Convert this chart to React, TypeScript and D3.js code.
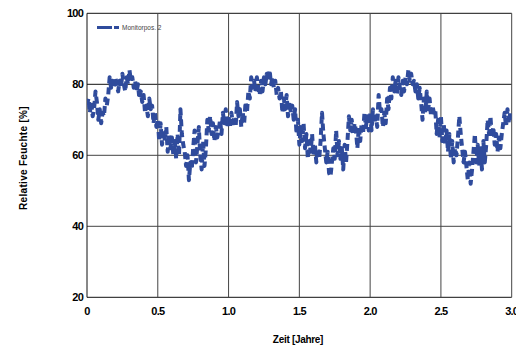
import React from "react";
import * as d3 from "d3";

// Relative humidity, sampled every 0.01 year
const year1: number[] = [
  74, 76, 72, 75, 71, 73, 78, 75, 70, 73,
  69, 72, 71, 76, 74, 77, 82, 79, 81, 79,
  82, 80, 78, 81, 79, 83, 80, 78, 82, 80,
  84, 81, 82, 79, 81, 78, 80, 76, 78, 75,
  77, 72, 74, 71, 76, 73, 74, 69, 72, 68,
  70, 64, 69, 63, 67, 64, 68, 61, 66, 62,
  65, 60, 64, 59, 66, 60, 73, 66, 63, 61,
  57, 60, 53, 58, 56, 62, 67, 58, 63, 68,
  60, 56, 64, 57, 62, 70, 67, 71, 66, 69,
  64, 68, 65, 67, 70, 66, 72, 69, 73, 68,
];
const year2: number[] = [
  71, 68, 72, 69, 71, 68, 75, 71, 73, 68,
  72, 69, 75, 72, 78, 76, 82, 79, 81, 78,
  82, 79, 77, 81, 78, 82, 80, 83, 81, 84,
  80, 82, 79, 81, 77, 79, 76, 78, 72, 76,
  73, 77, 71, 75, 72, 74, 70, 73, 66, 70,
  63, 68, 64, 69, 62, 66, 59, 64, 61, 66,
  60, 63, 58, 62, 59, 64, 72, 66, 62, 58,
  61, 55, 54, 58, 62, 59, 67, 60, 64, 59,
  62, 56, 63, 58, 64, 71, 67, 70, 66, 69,
  67, 62, 68, 64, 69, 66, 72, 68, 71, 67,
];
const year3: number[] = [
  72, 67, 73, 69, 71, 68, 77, 72, 73, 68,
  72, 69, 76, 73, 79, 76, 82, 78, 81, 77,
  82, 79, 77, 81, 78, 82, 80, 84, 81, 83,
  80, 81, 78, 80, 76, 79, 75, 70, 76, 72,
  78, 73, 76, 71, 74, 72, 73, 66, 70, 65,
  71, 64, 69, 63, 67, 61, 66, 59, 64, 58,
  62, 60, 65, 71, 66, 62, 58, 61, 57, 53,
  58, 52, 56, 61, 66, 58, 63, 57, 62, 56,
  64, 58, 63, 70, 66, 71, 65, 68, 63, 66,
  61, 65, 62, 66, 69, 72, 68, 73, 69, 72,
];
const lastValue: number[] = [70];

const yTicks: number[] = [20, 40, 60, 80, 100];
const xTicks: number[] = [0, 0.5, 1, 1.5, 2, 2.5, 3];
const xTickLabels: string[] = ["0", "0.5", "1.0", "1.5", "2.0", "2.5", "3.0"];
const seriesName = "Monitorpos. 2";
const xTitle = "Zeit [Jahre]";
const yTitle = "Relative Feuchte [%]";

const STEP = 0.01;

export default function App() {
  const W = 528, H = 347;
  const x = d3.scaleLinear().domain([0, 3]).range([87, 511.7]);
  const y = d3.scaleLinear().domain([20, 100]).range([297.3, 13.3]);

  const values = [...year1, ...year2, ...year3, ...lastValue];
  const data = values.map((v, i) => ({ t: i * STEP, v }));
  const line = d3
    .line<{ t: number; v: number }>()
    .x((d) => x(d.t))
    .y((d) => y(d.v));

  const color = "#2f4b9c";
  const font = "'Liberation Sans', Arial, sans-serif";

  return (
    <svg
      width={W}
      height={H}
      style={{ position: "absolute", left: 0, top: 0, background: "#fff" }}
    >
      <defs>
        <clipPath id="plot">
          <rect x={x(0)} y={y(100)} width={x(3) - x(0)} height={y(20) - y(100)} />
        </clipPath>
        <clipPath id="page">
          <rect x={0} y={0} width={516} height={H} />
        </clipPath>
      </defs>
      {/* grid */}
      {yTicks.map((t) => (
        <line
          key={"gy" + t}
          x1={x(0)}
          x2={x(3)}
          y1={y(t)}
          y2={y(t)}
          stroke={t === 20 || t === 100 || t === 80 ? "#111" : "#444"}
          strokeWidth={1}
        />
      ))}
      {xTicks.map((t) => (
        <line
          key={"gx" + t}
          x1={x(t)}
          x2={x(t)}
          y1={y(100)}
          y2={y(20)}
          stroke={t === 0 ? "#111" : "#444"}
          strokeWidth={1}
        />
      ))}
      {/* data */}
      <path
        d={line(data) || ""}
        fill="none"
        stroke={color}
        strokeWidth={4}
        strokeDasharray="7,4"
        strokeLinejoin="round"
        clipPath="url(#plot)"
      />
      {/* legend */}
      <line x1={97} x2={119} y1={27.5} y2={27.5} stroke={color} strokeWidth={3} strokeDasharray="15,2" />
      <text x={122} y={30} fontFamily={font} fontSize={6.5} fill="#444">
        {seriesName}
      </text>
      {/* y tick labels */}
      {yTicks.map((t) => (
        <text
          key={"ly" + t}
          x={83}
          y={y(t) + 4}
          textAnchor="end"
          fontFamily={font}
          fontWeight="bold"
          fontSize={11}
          letterSpacing={-0.8}
          fill="#000"
        >
          {t}
        </text>
      ))}
      {/* x tick labels */}
      <g clipPath="url(#page)">
        {xTicks.map((t, i) => (
          <text
            key={"lx" + t}
            x={x(t)}
            y={315}
            textAnchor="middle"
            fontFamily={font}
            fontWeight="bold"
            fontSize={11}
            letterSpacing={-0.8}
            fill="#000"
          >
            {xTickLabels[i]}
          </text>
        ))}
      </g>
      <text
        x={298}
        y={343}
        textAnchor="middle"
        fontFamily={font}
        fontWeight="bold"
        fontSize={10}
        letterSpacing={-0.3}
        fill="#000"
      >
        {xTitle}
      </text>
      <text
        transform={`translate(27,158) rotate(-90)`}
        textAnchor="middle"
        fontFamily={font}
        fontWeight="bold"
        fontSize={10}
        letterSpacing={0.3}
        fill="#000"
      >
        {yTitle}
      </text>
    </svg>
  );
}
